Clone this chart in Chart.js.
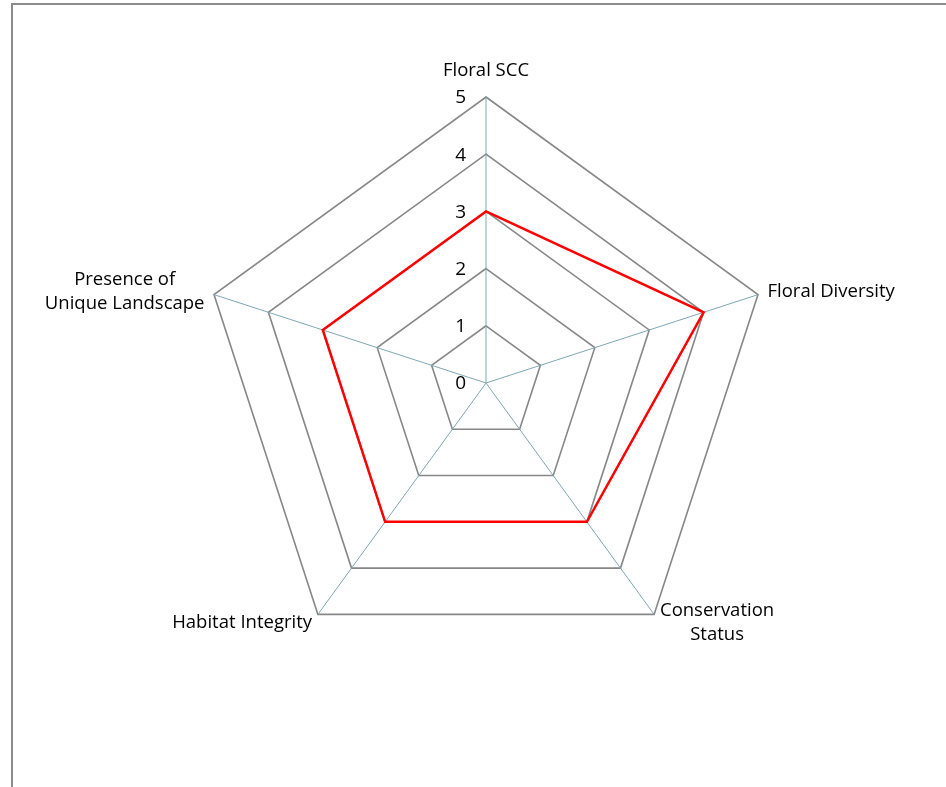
<!DOCTYPE html>
<html>
<head>
<meta charset="utf-8">
<script src="https://cdn.jsdelivr.net/npm/chart.js@4"></script>
<style>
  html, body { margin: 0; padding: 0; background: #fff; overflow: hidden; }
  #frame {
    position: absolute; left: 11px; top: 3px; width: 1000px; height: 900px;
    border-top: 2px solid #8c8c8c; border-left: 2px solid #8c8c8c;
  }
  #chart { position: absolute; left: 0; top: 0; }
</style>
</head>
<body>
<div id="frame"></div>
<canvas id="chart" width="946" height="787"></canvas>
<script>
// ── Dados ──────────────────────────────────────────────────────────────────
const categories = [
  ['Floral SCC'],
  ['Floral Diversity'],
  ['Conservation', 'Status'],
  ['Habitat Integrity'],
  ['Presence of', 'Unique Landscape'],
];
const scores = [3, 4, 3, 3, 3];
const AXIS_MIN = 0;
const AXIS_MAX = 5;
const AXIS_STEP = 1;

const FONT = "'Open Sans', 'Noto Sans', sans-serif";
const TEXT = '#000000';
const GRID = '#878787';
const SPOKE = '#7fa7b3';

// ── Rótulos (ticks à esquerda do eixo, categorias fora do polígono) ────────
const radarLabels = {
  id: 'radarLabels',
  afterDraw(chart) {
    const scale = chart.scales.r;
    const ctx = chart.ctx;
    ctx.save();
    ctx.fillStyle = TEXT;

    // ticks
    ctx.font = `19px ${FONT}`;
    ctx.textAlign = 'right';
    ctx.textBaseline = 'middle';
    scale.ticks.forEach(t => {
      const y = scale.yCenter - scale.getDistanceFromCenterForValue(t.value);
      ctx.fillText(String(t.value), scale.xCenter - 20, y + 1);
    });

    // categorias
    ctx.font = `18.5px ${FONT}`;
    const lineH = 24;
    categories.forEach((lines, i) => {
      const vertical = Math.abs(Math.cos(scale.getPointPosition(i, 1).angle)) < 0.1;
      const p = scale.getPointPosition(i, scale.drawingArea + (vertical ? 26 : 10));
      const c = Math.cos(p.angle);
      const widths = lines.map(l => ctx.measureText(l).width);
      const maxW = Math.max(...widths);
      let cx;
      if (c > 0.1) cx = p.x + maxW / 2;
      else if (c < -0.1) cx = p.x - maxW / 2;
      else cx = p.x;
      const top = p.y - (lines.length - 1) * lineH / 2;
      ctx.textAlign = 'center';
      lines.forEach((l, j) => ctx.fillText(l, cx, top + j * lineH));
    });
    ctx.restore();
  },
};

new Chart(document.getElementById('chart'), {
  type: 'radar',
  data: {
    labels: categories,
    datasets: [{
      label: 'Score',
      data: scores,
      borderColor: '#ff0000',
      borderWidth: 2.5,
      backgroundColor: 'transparent',
      fill: false,
      pointRadius: 0,
      pointHoverRadius: 0,
      tension: 0,
    }],
  },
  options: {
    responsive: false,
    animation: false,
    layout: { padding: { left: 200, right: 174, top: 97, bottom: 118 } },
    plugins: {
      legend: { display: false },
      tooltip: { enabled: false },
    },
    scales: {
      r: {
        min: AXIS_MIN,
        max: AXIS_MAX,
        ticks: { stepSize: AXIS_STEP, display: false },
        pointLabels: { display: false },
        grid: { color: GRID, lineWidth: 1.6 },
        angleLines: { color: SPOKE, lineWidth: 1 },
      },
    },
  },
  plugins: [radarLabels],
});
</script>
</body>
</html>
